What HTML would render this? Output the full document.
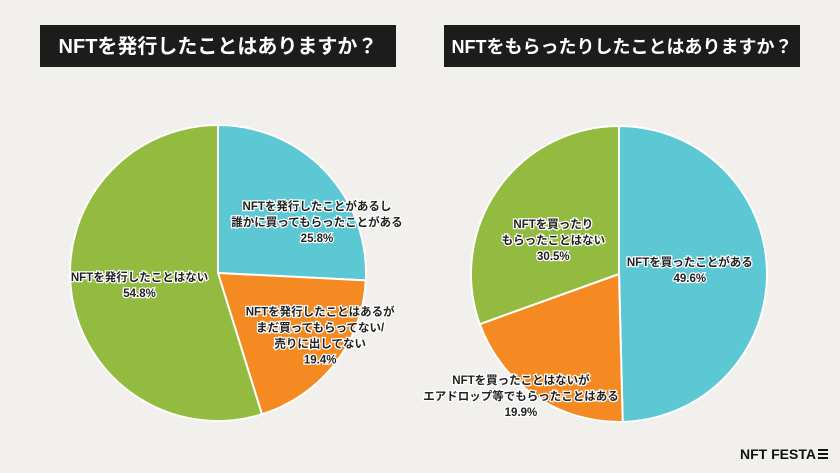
<!DOCTYPE html>
<html><head><meta charset="utf-8"><style>
html,body{margin:0;padding:0;background:#f1f0ec;}
svg{display:block;font-family:"Liberation Sans","Noto Sans CJK JP",sans-serif;}
</style></head><body>
<svg id="c" width="840" height="473" viewBox="0 0 840 473">
<rect x="0" y="0" width="840" height="473" fill="#f1f0ec"/>
<rect x="40" y="25" width="356" height="42" fill="#1c1c1c"/>
<text x="218" y="53" text-anchor="middle" fill="#fff" font-size="20" font-weight="bold">NFTを発行したことはありますか？</text>
<rect x="444" y="25" width="356" height="42" fill="#1c1c1c"/>
<text x="622" y="53" text-anchor="middle" fill="#fff" font-size="18" font-weight="bold">NFTをもらったりしたことはありますか？</text>
<g id="pies"></g>
<g>
<text x="740" y="459" fill="#111" font-size="14" font-weight="bold">NFT FESTA</text>
<rect x="818" y="449" width="10" height="2" fill="#111"/><rect x="818" y="453" width="10" height="2" fill="#111"/><rect x="818" y="457" width="10" height="2" fill="#111"/>
</g>
</svg>
<script>
const leftLabels=[["NFTを発行したことがあるし","誰かに買ってもらったことがある"],["NFTを発行したことはあるが","まだ買ってもらってない/","売りに出してない"],["NFTを発行したことはない"]];
const leftValues=[25.8,19.4,54.8];
const rightLabels=[["NFTを買ったことがある"],["NFTを買ったことはないが","エアドロップ等でもらったことはある"],["NFTを買ったり","もらったことはない"]];
const rightValues=[49.6,19.9,30.5];
const colors=["#5bc8d3","#f58a22","#93bb3f"];
const NS="http://www.w3.org/2000/svg";
const g=document.getElementById('pies');
function pt(cx,cy,r,f){const a=f*2*Math.PI-Math.PI/2;return [cx+r*Math.cos(a),cy+r*Math.sin(a)];}
function pie(cx,cy,r,values,labels,side,labelPos,offs){
  const tot=values.reduce((a,b)=>a+b,0);let acc=0;
  values.forEach((v,i)=>{
    const f0=acc/tot,f1=(acc+v)/tot;acc+=v;
    const p0=pt(cx,cy,r,f0),p1=pt(cx,cy,r,f1);
    const large=(f1-f0)>0.5?1:0;
    const p=document.createElementNS(NS,'path');
    p.setAttribute('d',`M${cx},${cy}L${p0[0]},${p0[1]}A${r},${r} 0 ${large} 1 ${p1[0]},${p1[1]}Z`);
    p.setAttribute('fill',colors[i]);p.setAttribute('stroke','#fff');p.setAttribute('stroke-width','2');
    
    
    g.appendChild(p);
    const mid=(f0+f1)/2;const lp=pt(cx,cy,r*labelPos[i],mid);
    lp[0]+=offs[i][0];lp[1]+=offs[i][1];
    const lines=labels[i].concat([v.toFixed(1)+'%']);
    const t=document.createElementNS(NS,'text');
    t.setAttribute('text-anchor','middle');t.setAttribute('font-size','11.5');t.setAttribute('font-weight','bold');t.setAttribute('fill','#222');
    t.setAttribute('stroke','#fff');t.setAttribute('stroke-width','2.5');t.setAttribute('paint-order','stroke');
    
    
    const y0=lp[1]-(lines.length-1)*8;
    lines.forEach((s,k)=>{const ts=document.createElementNS(NS,'tspan');ts.setAttribute('x',lp[0]);ts.setAttribute('y',y0+k*16+4);ts.textContent=s;t.appendChild(ts);});
    g.appendChild(t);
  });
}
pie(218,273,148,leftValues,leftLabels,'left',[0.55,0.6,0.55],[[40,5],[32,8],[2,0]]);
pie(619,274,148,rightValues,rightLabels,'right',[0.6,0.85,0.6],[[-18,-3],[-27,18],[7,17]]);
</script>
</body></html>
